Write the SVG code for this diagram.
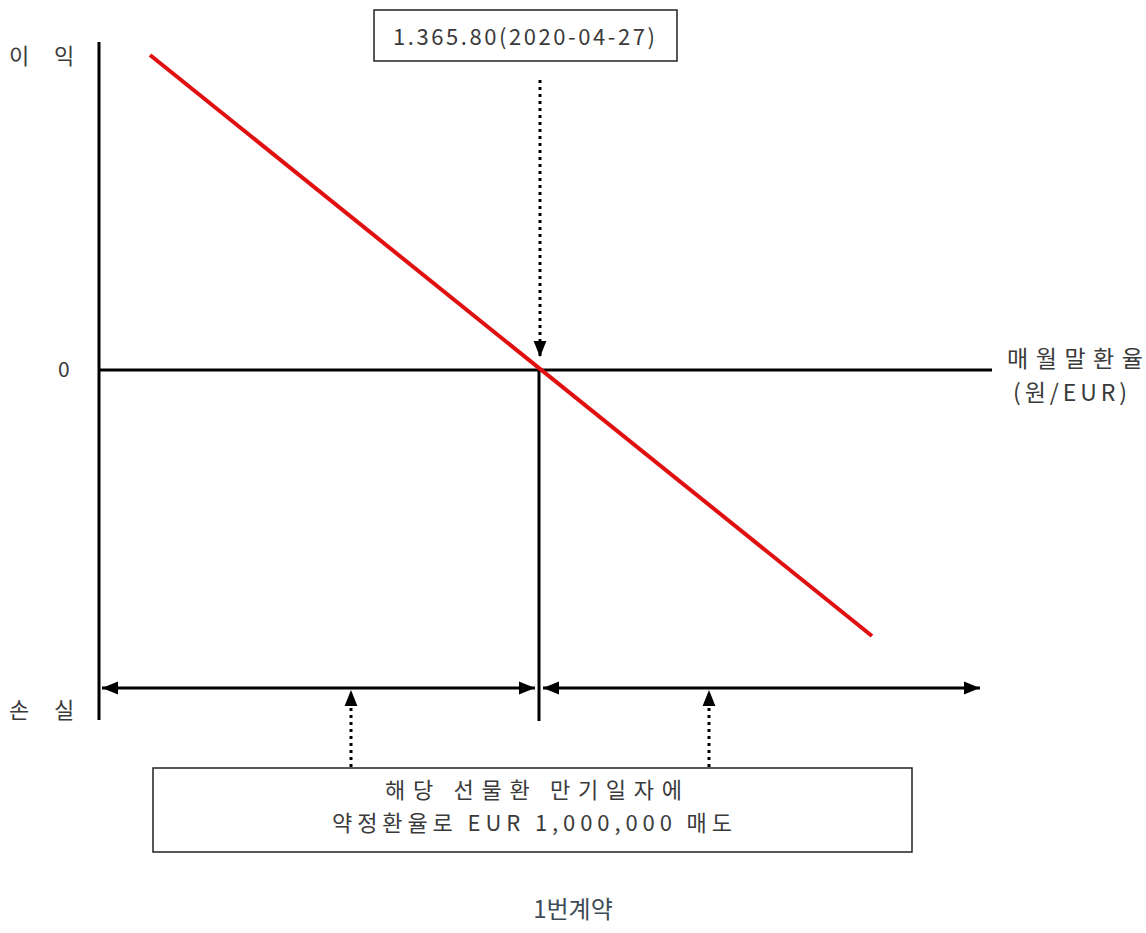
<svg xmlns="http://www.w3.org/2000/svg" width="1146" height="933" viewBox="0 0 1146 933">
<style>
.ax{stroke:#000;stroke-width:3;fill:none}
.dot{stroke:#000;stroke-width:3;stroke-dasharray:3,4;fill:none}
.box{fill:#fff;stroke:#222;stroke-width:1.5}
.t{font-family:"Noto Sans CJK KR","Noto Sans",sans-serif;fill:#3a3a3a}
.cap{font-family:"Noto Sans CJK KR","Noto Sans",sans-serif;fill:#3d4b55}
</style>
<defs>
<marker id="ah2" viewBox="0 0 10 10" refX="10" refY="5" markerWidth="16" markerHeight="16" markerUnits="userSpaceOnUse" orient="auto-start-reverse">
<path d="M0,1 L10,5 L0,9 z" fill="#000"/>
</marker>
</defs>
<rect width="1146" height="933" fill="#fff"/>
<g id="connectors">
<line class="ax" x1="99" y1="42" x2="99" y2="720"/>
<line class="ax" x1="99" y1="370" x2="992" y2="370"/>
<line class="ax" x1="539" y1="370" x2="539" y2="721"/>
<line x1="150" y1="55" x2="872" y2="636" stroke="#e01010" stroke-width="4"/>
<line class="dot" x1="540" y1="80" x2="540" y2="357" marker-end="url(#ah2)"/>
<line class="ax" x1="102" y1="688" x2="535" y2="688" marker-start="url(#ah2)" marker-end="url(#ah2)"/>
<line class="ax" x1="543" y1="688" x2="980" y2="688" marker-start="url(#ah2)" marker-end="url(#ah2)"/>
<line class="dot" x1="351" y1="767" x2="351" y2="690" marker-end="url(#ah2)"/>
<line class="dot" x1="709" y1="767" x2="709" y2="690" marker-end="url(#ah2)"/>
</g>
<g id="topbox">
<rect class="box" x="374" y="10" width="303" height="51"/>
<text class="t" x="393" y="45" font-size="22" textLength="262" lengthAdjust="spacing">1.365.80(2020-04-27)</text>
</g>
<g id="labels">
<text class="t" x="9" y="64" font-size="22">이</text>
<text class="t" x="54" y="64" font-size="22">익</text>
<text class="t" x="58" y="377" font-size="21">0</text>
<text class="t" x="9" y="718" font-size="22">손</text>
<text class="t" x="54" y="718" font-size="22">실</text>
<text class="t" x="1007" y="367" font-size="23" textLength="136" lengthAdjust="spacing">매월말환율</text>
<text class="t" x="1013" y="401" font-size="23" textLength="114" lengthAdjust="spacing">(원/EUR)</text>
</g>
<g id="bottombox">
<rect class="box" x="153" y="768" width="759" height="84"/>
<text class="t" x="385" y="798" font-size="22" textLength="297" lengthAdjust="spacing">해당 선물환 만기일자에</text>
<text class="t" x="332" y="831" font-size="22" textLength="400" lengthAdjust="spacing">약정환율로 EUR 1,000,000 매도</text>
</g>
<g id="caption">
<text class="cap" x="573" y="918" font-size="24" text-anchor="middle">1번계약</text>
</g>
</svg>
